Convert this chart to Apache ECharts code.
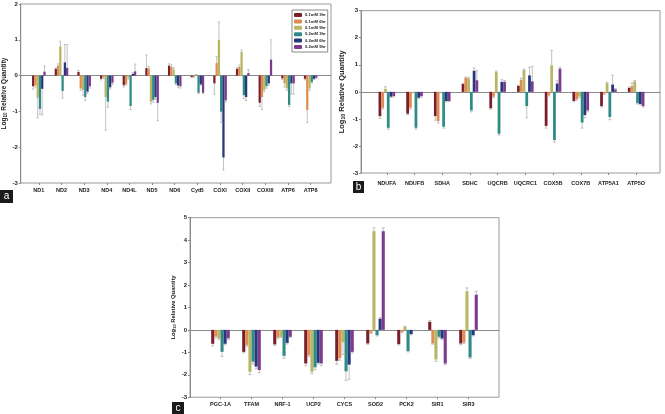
<!DOCTYPE html>
<html><head><meta charset="utf-8">
<script src="https://cdn.jsdelivr.net/npm/echarts@6/dist/echarts.min.js"></script>
<style>html,body{margin:0;padding:0;background:#fff}#c{width:665px;height:414px}</style>
</head><body><div id="c"></div>
<script>
// ---------- DATA ----------
const seriesNames = ['0.1mM 3hr','0.1mM 6hr','0.1mM 9hr','0.2mM 3hr','0.2mM 6hr','0.2mM 9hr'];
const colors = ['#7a1e2a','#de8c52','#b8b665','#2f8b86','#26377a','#7c3b8d'];

const catsA = ['ND1','ND2','ND3','ND4','ND4L','ND5','ND6','CytB','COXI','COXII','COXIII','ATP6','ATP8'];
const a_01_3h = [-0.30, 0.19, 0.10, -0.09, -0.27, 0.21, 0.28, -0.04, -0.22, 0.19, -0.76, -0.08, -0.09];
const a_01_6h = [-0.27, 0.28, -0.36, -0.05, -0.24, 0.20, 0.24, -0.03, 0.35, 0.24, -0.60, -0.22, -0.96];
const a_01_9h = [-0.62, 0.82, -0.40, -0.60, -0.05, -0.73, 0.17, 0.01, 1.00, 0.66, -0.40, -0.36, -0.36];
const a_02_3h = [-0.93, -0.43, -0.60, -0.73, -0.85, -0.68, -0.22, -0.48, -1.01, -0.55, -0.30, -0.82, -0.18];
const a_02_6h = [-0.37, 0.37, -0.45, -0.33, 0.05, -0.60, -0.28, -0.25, -2.29, -0.60, -0.22, -0.22, -0.09];
const a_02_9h = [0.11, 0.22, -0.30, -0.20, 0.12, -0.76, -0.30, -0.48, -0.69, 0.07, 0.45, -0.22, -0.06];
const aErr_01_3h = [0.08, 0.03, 0.04, 0.03, 0.05, 0.37, 0.05, 0.02, 0.30, 0.03, 0.10, 0.03, 0.03];
const aErr_01_6h = [0.05, 0.05, 0.05, 0.03, 0.03, 0.05, 0.06, 0.02, 0.18, 0.05, 0.35, 0.10, 0.35];
const aErr_01_9h = [0.56, 0.14, 0.15, 0.92, 0.05, 0.06, 0.05, 0.02, 0.50, 0.05, 0.05, 0.05, 0.05];
const aErr_02_3h = [0.15, 0.20, 0.10, 0.15, 0.10, 0.06, 0.03, 0.02, 0.30, 0.10, 0.05, 0.05, 0.03];
const aErr_02_6h = [0.73, 0.50, 0.05, 0.05, 0.03, 0.06, 0.05, 0.02, 0.35, 0.10, 0.05, 0.30, 0.02];
const aErr_02_9h = [0.16, 0.65, 0.05, 0.05, 0.20, 0.50, 0.05, 0.02, 0.05, 0.10, 0.55, 0.30, 0.02];

const catsB = ['NDUFA','NDUFB','SDHA','SDHC','UQCRB','UQCRC1','COX5B','COX7B','ATP5A1','ATP5O'];
const b_01_3h = [-0.90, -0.81, -0.90, 0.29, -0.61, 0.22, -1.26, -0.34, -0.53, 0.15];
const b_01_6h = [-0.59, -0.59, -1.08, 0.52, -0.18, 0.45, -0.12, -0.28, -0.07, 0.21];
const b_01_9h = [0.11, -0.01, -0.02, 0.50, 0.74, 0.81, 0.98, -0.17, 0.32, 0.39];
const b_02_3h = [-1.33, -1.33, -1.29, -0.69, -1.55, -0.53, -1.78, -1.14, -0.93, -0.42];
const b_02_6h = [-0.18, -0.22, -0.34, 0.78, 0.37, 0.61, 0.31, -0.86, 0.27, -0.45];
const b_02_9h = [-0.16, -0.16, -0.34, 0.43, 0.37, 0.39, 0.86, -0.69, 0.09, -0.53];
const bErr_01_3h = [0.08, 0.03, 0.15, 0.03, 0.03, 0.03, 0.08, 0.03, 0.03, 0.03];
const bErr_01_6h = [0.05, 0.05, 0.07, 0.03, 0.03, 0.05, 0.03, 0.03, 0.03, 0.12];
const bErr_01_9h = [0.08, 0.02, 0.02, 0.03, 0.03, 0.03, 0.55, 0.05, 0.03, 0.03];
const bErr_02_3h = [0.05, 0.05, 0.05, 0.05, 0.05, 0.43, 0.08, 0.20, 0.10, 0.03];
const bErr_02_6h = [0.03, 0.03, 0.03, 0.10, 0.08, 0.30, 0.10, 0.10, 0.35, 0.03];
const bErr_02_9h = [0.03, 0.03, 0.03, 0.35, 0.05, 0.55, 0.05, 0.05, 0.03, 0.03];

const catsC = ['PGC-1A','TFAM','NRF-1','UCP2','CYCS','SOD2','PCK2','SIR1','SIR3'];
const c_01_3h = [-0.62, -0.98, -0.65, -1.50, -1.38, -0.61, -0.64, 0.36, -0.61];
const c_01_6h = [-0.30, -0.68, -0.34, -1.13, -1.25, -0.13, -0.09, -0.61, -0.56];
const c_01_9h = [-0.38, -1.87, -0.31, -1.87, -0.55, 4.40, 0.13, -1.32, 1.72];
const c_02_3h = [-0.98, -1.42, -1.16, -1.67, -1.85, -0.24, -0.95, -0.31, -1.23];
const c_02_6h = [-0.62, -1.64, -0.58, -1.47, -1.55, 0.50, -0.19, -0.39, -0.24];
const c_02_9h = [-0.38, -1.79, -0.31, -1.50, -0.98, 4.40, -0.02, -1.50, 1.57];
const cErr_01_3h = [0.10, 0.04, 0.04, 0.10, 0.15, 0.03, 0.03, 0.05, 0.05];
const cErr_01_6h = [0.05, 0.05, 0.05, 0.05, 0.10, 0.03, 0.03, 0.03, 0.05];
const cErr_01_9h = [0.05, 0.12, 0.03, 0.08, 0.55, 0.15, 0.03, 0.08, 0.15];
const cErr_02_3h = [0.20, 0.10, 0.10, 0.10, 0.40, 0.03, 0.03, 0.05, 0.05];
const cErr_02_6h = [0.05, 0.10, 0.05, 0.05, 0.65, 0.05, 0.03, 0.05, 0.03];
const cErr_02_9h = [0.05, 0.12, 0.03, 0.10, 0.05, 0.15, 0.02, 0.05, 0.15];

const yTicksA = [-3, 2];
const yTicksB = [-3, 3];
const yTicksC = [-3, 5];

// ---------- BUILD ----------
const FONT = 'Liberation Sans';
const panels = [
  {cats: catsA, vals: [a_01_3h,a_01_6h,a_01_9h,a_02_3h,a_02_6h,a_02_9h],
   errs: [aErr_01_3h,aErr_01_6h,aErr_01_9h,aErr_02_3h,aErr_02_6h,aErr_02_9h],
   range: yTicksA, frame:{left:16, top:4, width:315, height:179}, bars:{left:27.5, width:294.5},
   nameGap: 10, nameSize: 6.5, labelMargin: 4},
  {cats: catsB, vals: [b_01_3h,b_01_6h,b_01_9h,b_02_3h,b_02_6h,b_02_9h],
   errs: [bErr_01_3h,bErr_01_6h,bErr_01_9h,bErr_02_3h,bErr_02_6h,bErr_02_9h],
   range: yTicksB, frame:{left:361, top:10.7, width:299, height:162.3}, bars:{left:373, width:277},
   nameGap: 15, nameSize: 7.5, labelMargin: 7},
  {cats: catsC, vals: [c_01_3h,c_01_6h,c_01_9h,c_02_3h,c_02_6h,c_02_9h],
   errs: [cErr_01_3h,cErr_01_6h,cErr_01_9h,cErr_02_3h,cErr_02_6h,cErr_02_9h],
   range: yTicksC, frame:{left:190, top:217.7, width:309, height:179.5}, bars:{left:205, width:279},
   nameGap: 13, nameSize: 5.8, labelMargin: 4}
];

const GAP = 0.40; // barCategoryGap
const grid = [], xAxis = [], yAxis = [], series = [];
panels.forEach((p, pi) => {
  const gf = grid.length;
  grid.push({left:p.frame.left, top:p.frame.top, width:p.frame.width, height:p.frame.height,
             show:true, borderColor:'#9a9a9a', borderWidth:1, backgroundColor:'transparent'});
  grid.push({left:p.bars.left, top:p.frame.top, width:p.bars.width, height:p.frame.height});
  // frame axes
  xAxis.push({type:'value', gridIndex:gf, min:0, max:1, axisLabel:{show:false}, axisTick:{show:false},
              splitLine:{show:false}, axisLine:{show:true, onZero:true, lineStyle:{color:'#8a8a8a', width:1}}});
  yAxis.push({type:'value', gridIndex:gf, min:p.range[0], max:p.range[1], interval:1,
              axisLine:{show:true, lineStyle:{color:'#8a8a8a'}}, axisTick:{show:true, length:2, lineStyle:{color:'#8a8a8a'}},
              splitLine:{show:false},
              axisLabel:{fontSize:6, fontWeight:'bold', color:'#222', margin:3, fontFamily:FONT},
              name:'Log{s|10} Relative Quantity', nameLocation:'middle', nameGap:p.nameGap,
              nameTextStyle:{fontSize:p.nameSize, fontWeight:'bold', color:'#222', fontFamily:FONT,
                rich:{s:{fontSize:p.nameSize*0.7, fontWeight:'bold', color:'#222', verticalAlign:'bottom', padding:[3,0,0,0]}}}});
  // bar axes
  xAxis.push({type:'category', gridIndex:gf+1, data:p.cats, position:'bottom',
              axisLine:{show:false, onZero:false}, axisTick:{show:true, alignWithLabel:true, length:2, lineStyle:{color:'#8a8a8a'}},
              axisLabel:{fontSize:5.5, fontWeight:'bold', color:'#222', margin:p.labelMargin, fontFamily:FONT, interval:0}});
  yAxis.push({type:'value', gridIndex:gf+1, min:p.range[0], max:p.range[1], show:false});
  const errData = [];
  p.vals.forEach((arr, k) => {
    series.push({type:'bar', name:seriesNames[k], xAxisIndex:gf+1, yAxisIndex:gf+1, data:arr,
                 barGap:'0%', barCategoryGap:(GAP*100)+'%', itemStyle:{color:colors[k]}, animation:false});
    arr.forEach((v, i) => errData.push([i, k, v, p.errs[k][i]]));
  });
  series.push({type:'custom', xAxisIndex:gf+1, yAxisIndex:gf+1, data:errData, z:5, animation:false,
    encode:{x:0, y:2},
    renderItem:function(params, api){
      const i = api.value(0), k = api.value(1), v = api.value(2), e = api.value(3);
      const bw = api.size([1,0])[0];
      const gw = bw*(1-GAP), w = gw/6;
      const cx = api.coord([i, 0])[0] - gw/2 + (k+0.5)*w;
      const end = v + (v >= 0 ? e : -e);
      const y1 = api.coord([i, v])[1], y2 = api.coord([i, end])[1];
      const st = {stroke:'#b4b4b4', lineWidth:0.8};
      return {type:'group', children:[
        {type:'line', shape:{x1:cx, y1:y1, x2:cx, y2:y2}, style:st},
        {type:'line', shape:{x1:cx-w*0.5, y1:y2, x2:cx+w*0.5, y2:y2}, style:st}
      ]};
    }});
});

function tag(letter, x, y, w, h){
  return {type:'group', left:x, top:y, children:[
    {type:'rect', shape:{x:0, y:0, width:w, height:h}, style:{fill:'#1a1a1a'}},
    {type:'text', x:w/2, y:h/2, style:{text:letter, fill:'#fff', font:'10px '+FONT, align:'center', verticalAlign:'middle'}}
  ]};
}

const option = {
  backgroundColor:'#fff',
  animation:false,
  grid, xAxis, yAxis, series,
  legend:{data:seriesNames, orient:'vertical', left:292, top:10, itemWidth:8, itemHeight:4, itemGap:2.4,
          padding:[3,2,3,2], borderColor:'#888', borderWidth:1, backgroundColor:'#fff',
          textStyle:{fontSize:4.2, fontWeight:'bold', color:'#222', fontFamily:FONT, padding:[0,0,0,-2]}},
  graphic:[tag('a', 0, 190, 13, 13), tag('b', 353, 181, 11, 12), tag('c', 172, 402, 12, 12)]
};
const chart = echarts.init(document.getElementById('c'), null, {renderer:'canvas'});
chart.setOption(option);
</script></body></html>
